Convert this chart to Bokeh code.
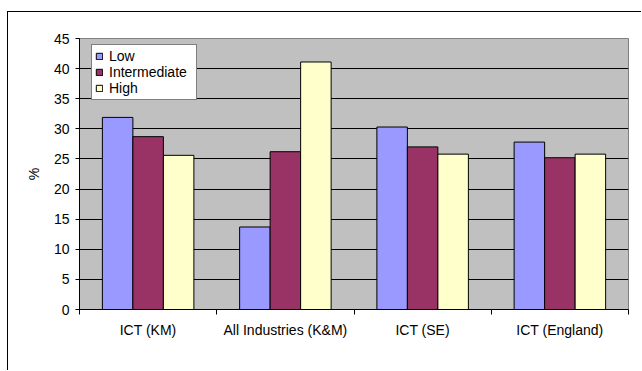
import numpy as np
from bokeh.plotting import figure
from bokeh.models import (ColumnDataSource, Range1d, FixedTicker, Legend, LegendItem)
from bokeh.embed import file_html
from bokeh.resources import INLINE

categories = ["ICT (KM)", "All Industries (K&M)", "ICT (SE)", "ICT (England)"]
series_names = ["Low", "Intermediate", "High"]
low = [31.9, 13.7, 30.3, 27.8]
intermediate = [28.7, 26.2, 27.0, 25.2]
high = [25.6, 41.1, 25.8, 25.8]
y_ticks = [0, 5, 10, 15, 20, 25, 30, 35, 40, 45]

colors = ["#9999FF", "#993366", "#FFFFCC"]
FONT = "Liberation Sans"
FS = "14px"

n = len(categories)
centers = np.arange(n) + 0.5
bar_w = 1.0 / 4.5

p = figure(width=634, height=359, output_backend="svg", toolbar_location=None,
           x_range=Range1d(0, n), y_range=Range1d(0, 45),
           min_border_left=71, min_border_top=26, min_border_right=14, min_border_bottom=62,
           background_fill_color="#C0C0C0", border_fill_color="white")
p.margin = (11, 0, 0, 7)
p.styles = {"border-left": "1px solid black", "border-top": "1px solid black"}
p.outline_line_color = "#808080"
p.outline_line_width = 1

items = []
for i, (name, vals) in enumerate(zip(series_names, [low, intermediate, high])):
    src = ColumnDataSource(dict(x=centers + (i - 1) * bar_w, top=vals))
    r = p.vbar(x="x", top="top", bottom=0, width=bar_w, source=src,
               fill_color=colors[i], line_color="black", line_width=1)
    items.append(LegendItem(label=name, renderers=[r]))

# axes
p.xaxis.ticker = FixedTicker(ticks=list(centers), minor_ticks=list(range(n + 1)))
p.xaxis.major_label_overrides = {float(c): lab for c, lab in zip(centers, categories)}
p.xaxis.major_tick_out = 0
p.xaxis.major_tick_in = 0
p.xaxis.minor_tick_out = 5
p.xaxis.minor_tick_in = 0
p.xaxis.minor_tick_line_color = "black"
p.xaxis.major_label_standoff = 7
p.xaxis.axis_line_color = "black"

p.yaxis.ticker = FixedTicker(ticks=y_ticks)
p.yaxis.major_tick_out = 4
p.yaxis.major_tick_in = 0
p.yaxis.minor_tick_line_color = None
p.yaxis.major_label_standoff = 6
p.yaxis.axis_line_color = "black"
p.yaxis.axis_label = "%"
p.yaxis.axis_label_standoff = 9
p.yaxis.axis_label_text_font_style = "normal"

for ax in [p.xaxis[0], p.yaxis[0]]:
    ax.major_label_text_font = FONT
    ax.major_label_text_font_size = FS
    ax.major_label_text_color = "black"
    ax.axis_label_text_font = FONT
    ax.axis_label_text_font_size = FS
    ax.axis_label_text_color = "black"
    ax.major_tick_line_color = "black"

p.xgrid.grid_line_color = None
p.ygrid.ticker = FixedTicker(ticks=y_ticks[1:-1])
p.ygrid.grid_line_color = "black"
p.ygrid.grid_line_width = 1

legend = Legend(items=items, location=(12, 209), orientation="vertical")
legend.label_text_font = FONT
legend.label_text_font_size = FS
legend.label_text_color = "black"
legend.glyph_width = 8
legend.glyph_height = 8
legend.label_height = 14
legend.label_width = 84
legend.label_standoff = 6
legend.spacing = 0
legend.padding = 3
legend.margin = 0
legend.border_line_color = "black"
legend.border_line_width = 1
legend.background_fill_color = "white"
legend.background_fill_alpha = 1
p.add_layout(legend, "center")

open("out.html", "w").write(file_html(p, INLINE))
